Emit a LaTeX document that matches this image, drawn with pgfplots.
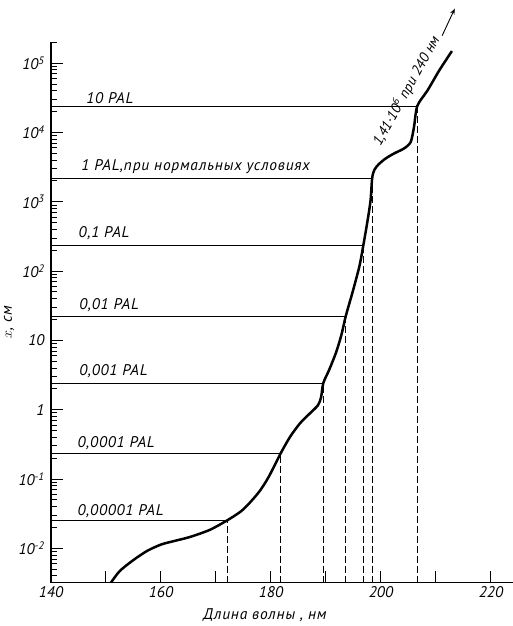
\documentclass[border=0pt]{standalone}
\usepackage{fontspec}
\setmainfont{PT Sans}
\newfontfamily\lblfamily{PT Sans}[LetterSpace=5]
\usepackage{pgfplots}
\pgfplotsset{compat=1.18}
\usetikzlibrary{arrows.meta}
\newcommand\lblfont{\fontsize{15.5}{17}\selectfont\lblfamily\itshape}
\newcommand\annfont{\fontsize{14.5}{16}\selectfont\itshape}
\newcommand\tickfont{\fontsize{15.5}{17}\selectfont\itshape}

\pgfplotstableread{
x y
150.9 0.0032
152.5 0.0047
154.9 0.0067
157.5 0.0092
160.1 0.0114
162.5 0.0128
165.3 0.0146
168.9 0.0185
172.1 0.0255
174.5 0.034
176.2 0.046
178.0 0.068
179.6 0.108
181.8 0.238
183.5 0.41
185.3 0.64
187.1 0.89
188.5 1.15
189.1 1.5
189.5 2.41
190.6 3.8
191.8 6.6
192.8 12
193.6 22.5
194.9 52
196.1 120
196.8 239
197.6 560
198.1 1050
198.4 2210
198.8 2900
199.6 3500
200.9 4250
202.4 5000
204.2 5900
205.4 7300
206.0 12000
206.6 24200
208.5 41000
210.6 79000
212.9 150000
}\curve

\begin{document}
\begin{tikzpicture}
\begin{axis}[
  scale only axis, width=462bp, height=540.2bp,
  at={(0,0)}, anchor=south west,
  xmin=140, xmax=224,
  ymode=log, ymin=3.2e-3, ymax=2e5,
  axis lines=left, axis line style={-, line width=1.3bp},
  tick align=inside,
  xtick={140,150,...,220},
  xticklabels={140,,160,,180,,200,,220},
  ytick={1e-2,1e-1,1,10,100,1e3,1e4,1e5},
  yticklabels={10\textsuperscript{-2},10\textsuperscript{-1},1,10,10\textsuperscript{2},10\textsuperscript{3},10\textsuperscript{4},10\textsuperscript{5}},
  minor ytick={4e-3,5e-3,6e-3,7e-3,8e-3,9e-3,
    2e-2,3e-2,4e-2,5e-2,6e-2,7e-2,8e-2,9e-2,
    0.2,0.3,0.4,0.5,0.6,0.7,0.8,0.9,
    2,3,4,5,6,7,8,9,
    20,30,40,50,60,70,80,90,
    200,300,400,500,600,700,800,900,
    2e3,3e3,4e3,5e3,6e3,7e3,8e3,9e3,
    2e4,3e4,4e4,5e4,6e4,7e4,8e4,9e4,2e5},
  major tick length=12bp, minor tick length=6.5bp,
  every tick/.style={black, line width=1bp},
  /pgf/number format/assume math mode=true,
  ticklabel style={font=\tickfont},
  yticklabel style={xshift=-3bp},
  xlabel={Длина волны , нм},
  xlabel style={font=\lblfont, at={(axis description cs:0.463,0)}, anchor=north, yshift=-23bp},
  ylabel={$x$, см},
  ylabel style={font=\lblfont, at={(axis description cs:-0.0909,0.482)}, anchor=center},
  clip=false,
]
% PAL levels: horizontal lines to the curve, dashed lines down to the axis
\addplot[black, line width=0.8bp] coordinates {(140,24200) (206.6,24200)};
\addplot[black, line width=0.8bp] coordinates {(140,2210) (198.4,2210)};
\addplot[black, line width=0.8bp] coordinates {(140,239) (196.8,239)};
\addplot[black, line width=0.8bp] coordinates {(140,22.5) (193.6,22.5)};
\addplot[black, line width=0.8bp] coordinates {(140,2.41) (189.5,2.41)};
\addplot[black, line width=0.8bp] coordinates {(140,0.238) (181.8,0.238)};
\addplot[black, line width=0.8bp] coordinates {(140,0.0255) (172.1,0.0255)};

\addplot[black, line width=0.9bp, dash pattern=on 7bp off 3bp] coordinates {(206.6,3.2e-3) (206.6,24200)};
\addplot[black, line width=0.9bp, dash pattern=on 7bp off 3bp] coordinates {(198.4,3.2e-3) (198.4,2210)};
\addplot[black, line width=0.9bp, dash pattern=on 7bp off 3bp] coordinates {(196.8,3.2e-3) (196.8,239)};
\addplot[black, line width=0.9bp, dash pattern=on 7bp off 3bp] coordinates {(193.6,3.2e-3) (193.6,22.5)};
\addplot[black, line width=0.9bp, dash pattern=on 7bp off 3bp] coordinates {(189.5,3.2e-3) (189.5,2.41)};
\addplot[black, line width=0.9bp, dash pattern=on 7bp off 3bp] coordinates {(181.8,3.2e-3) (181.8,0.238)};
\addplot[black, line width=0.9bp, dash pattern=on 7bp off 3bp] coordinates {(172.1,3.2e-3) (172.1,0.0255)};

\addplot[black, line width=2.5bp, smooth, tension=0.45] table {\curve};

\node[font=\lblfont, anchor=west] at (axis cs:145.8,31600) {10 PAL};
\node[font=\lblfont, anchor=west] at (axis cs:144.9,3180) {1 PAL,при нормальных условиях};
\node[font=\lblfont, anchor=west] at (axis cs:144.4,356) {0,1 PAL};
\node[font=\lblfont, anchor=west] at (axis cs:144.5,32.5) {0,01 PAL};
\node[font=\lblfont, anchor=west] at (axis cs:144.5,3.62) {0,001 PAL};
\node[font=\lblfont, anchor=west] at (axis cs:144.2,0.331) {0,0001 PAL};
\node[font=\lblfont, anchor=west] at (axis cs:144.2,0.0346) {0,00001 PAL};

\node[font=\annfont, anchor=base west, rotate=61, inner sep=0pt] (ann) at (axis cs:199.9,6190) {1,41·10\textsuperscript{6} при 240 нм};
\draw[black, line width=0.9bp, -{Stealth[length=6bp,width=4.5bp]}] ([shift={(61:4bp)}]ann.base east) -- ++(65:30bp);
\end{axis}
\pgfresetboundingbox
\path (-51bp,-43.4bp) rectangle (462bp,582.6bp);
\end{tikzpicture}
\end{document}
